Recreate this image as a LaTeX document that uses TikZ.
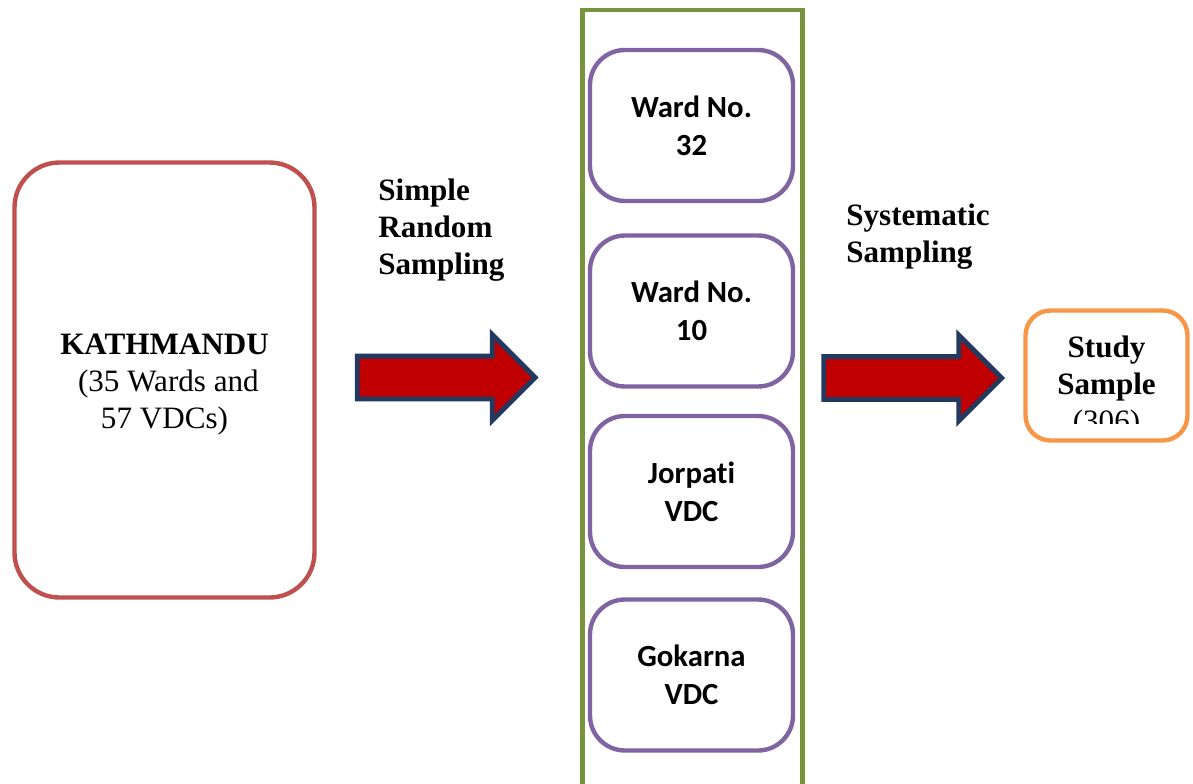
\documentclass[tikz,border=0pt]{standalone}
\usepackage{fontspec}
\setmainfont{Liberation Serif}
\newfontfamily\calibri[Ligatures=NoCommon]{Carlito}
\usetikzlibrary{calc,positioning,shapes.arrows}
\definecolor{cityRed}{RGB}{192,80,77}
\definecolor{colGreen}{RGB}{119,147,60}
\definecolor{wardPurple}{RGB}{128,100,162}
\definecolor{sampOrange}{RGB}{247,150,70}
\definecolor{arrFill}{RGB}{192,0,0}
\definecolor{arrEdge}{RGB}{35,58,96}

\begin{document}
\begin{tikzpicture}[every node/.style={font=\fontsize{17.7}{21}\selectfont, align=center},
  frame/.style={draw, line width=2.5pt, fill=white},
  ward/.style={frame, draw=wardPurple, minimum width=4.06cm, minimum height=3.02cm,
    rounded corners=0.7cm, font=\calibri\bfseries\fontsize{17.5}{21.5}\selectfont},
  blockarrow/.style={single arrow, draw=arrEdge, fill=arrFill, line width=2.8pt,
    minimum height=3.56cm, minimum width=1.62cm, single arrow head extend=0.43cm,
    inner xsep=0pt, inner ysep=0.38cm}]
  \useasboundingbox (0,0) rectangle (23.86,-15.66);

  % population
  \node[frame, draw=cityRed, minimum width=6cm, minimum height=8.7cm, rounded corners=0.9cm]
    (kath) at (3.29,-7.6) {\rule{0pt}{17pt}\textbf{KATHMANDU}\\\ (35 Wards and\\57 VDCs)};

  % selected wards and VDCs
  \node[draw=colGreen, line width=2.5pt, minimum width=4.4cm, minimum height=15.7cm]
    (column) at (13.85,-8.05) {};
  \foreach \i/\txt/\y in {1/{Ward No.\\32}/-2.51, 2/{Ward No.\\10}/-6.22,
                          3/{Jorpati\\VDC}/-9.83, 4/{Gokarna\\VDC}/-13.5}
    \node[ward] (w\i) at (13.83,\y) {\txt};

  % sample
  \node[frame, draw=sampOrange, minimum width=3.24cm, minimum height=2.6cm, rounded corners=0.5cm]
    (study) at (22.13,-7.51) {};
  \begin{scope}
    \clip ($(study.north west)+(0.1,0)$) rectangle ($(study.east)+(-0.1,-0.95)$);
    \node[anchor=north, inner sep=0pt] (studytxt) at ($(study.north)+(0,-0.55)$)
      {\textbf{Study}\\\textbf{Sample}\\(306)};
  \end{scope}

  % sampling steps
  \node[blockarrow] (arrA) at ($(kath.east)!0.5!(kath.east -| column.west)+(-0.26,0.05)$) {};
  \node[blockarrow] (arrB) at ($(column.east |- study)!0.5!(study.west)+(-0.24,-0.05)$) {};
  \node[anchor=west, align=left, inner sep=0pt] (srs) at (7.56,-4.61)
    {\textbf{Simple}\\\textbf{Random}\\\textbf{Sampling}};
  \node[anchor=west, align=left, inner sep=0pt] (sys) at (16.92,-4.73)
    {\textbf{Systematic}\\\textbf{Sampling}};
\end{tikzpicture}
\end{document}
